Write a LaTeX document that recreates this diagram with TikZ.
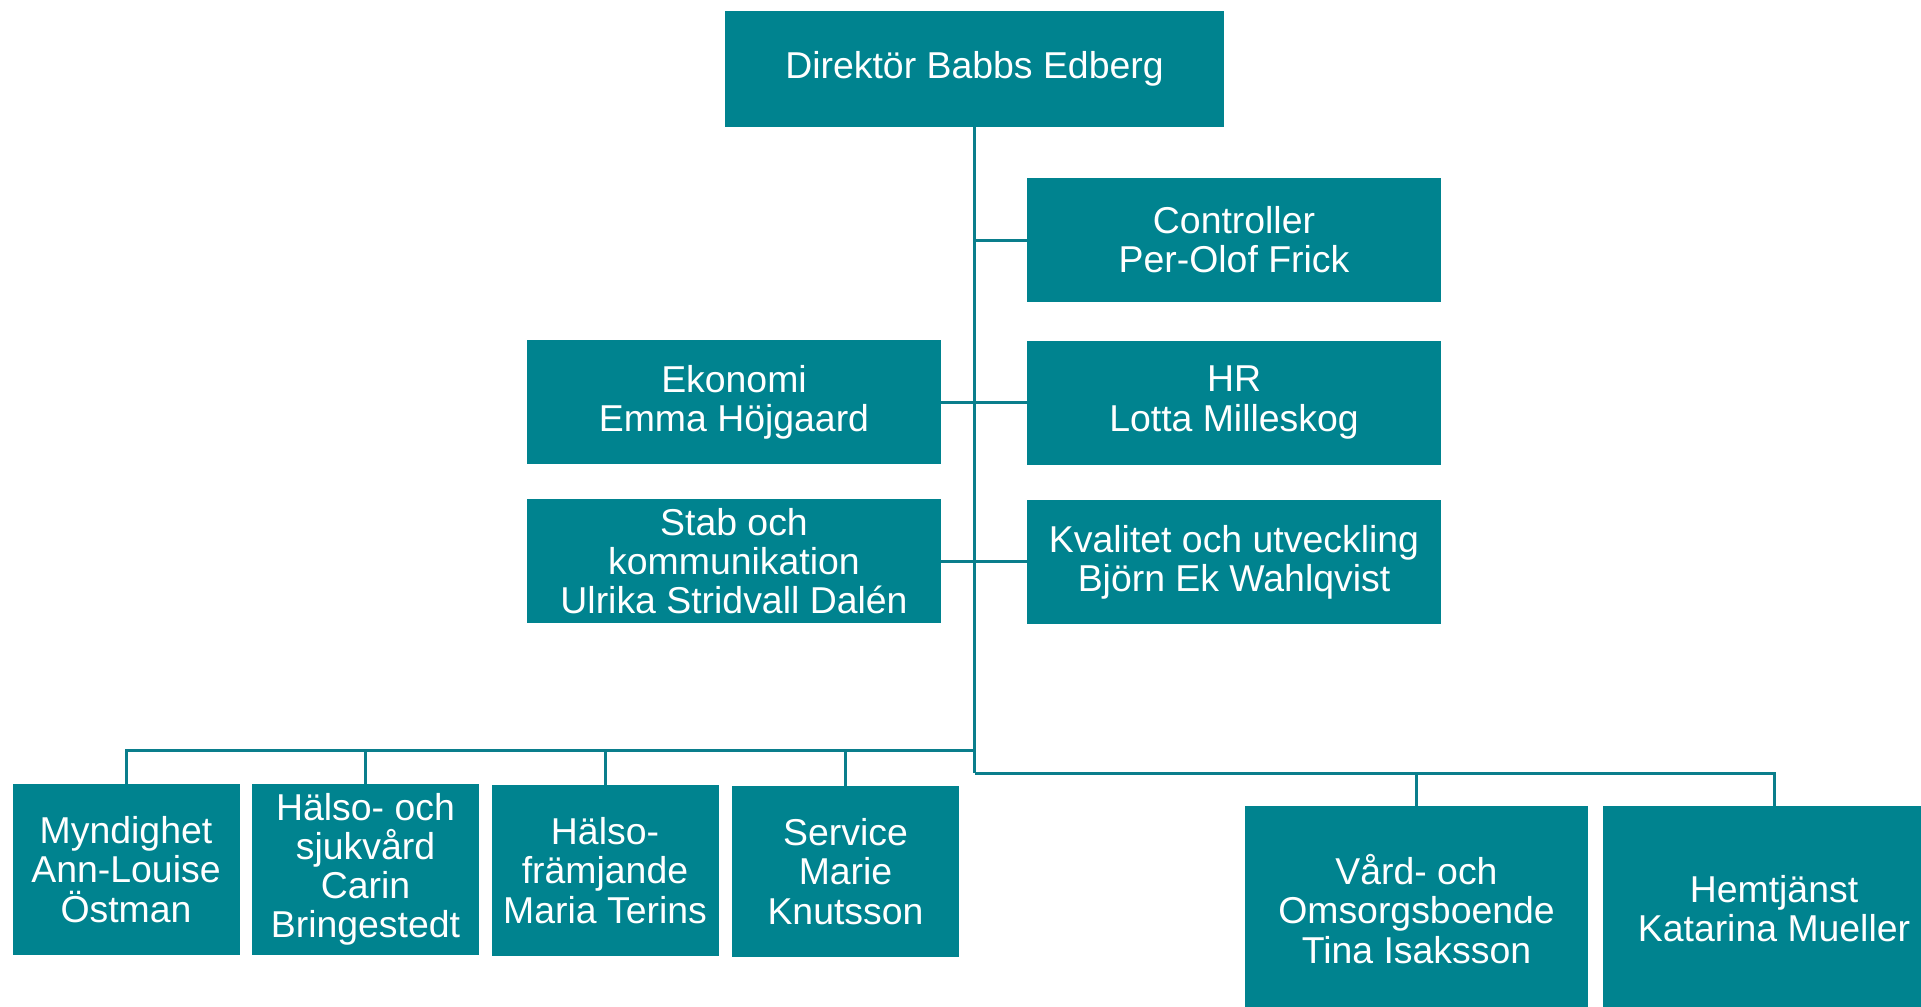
\documentclass[tikz,border=0pt]{standalone}
\usepackage{fontspec}
\setmainfont{Liberation Sans}
\definecolor{tealbox}{HTML}{00838F}
\definecolor{tealline}{HTML}{0A7E8C}
\begin{document}
\begin{tikzpicture}[x=0.5pt,y=-0.5pt,
  box/.style={fill=tealbox, text=white, inner sep=0pt, align=center,
    font=\fontsize{18.7}{19.6}\selectfont},
  wide/.style={minimum width=207pt, minimum height=62pt},
  low/.style={minimum width=113.5pt, minimum height=85.5pt},
  big/.style={minimum width=171.5pt, minimum height=103pt},
  conn/.style={draw=tealline, line width=1.5pt}]
\useasboundingbox (0,0) rectangle (1921,1006);
\clip (0,0) rectangle (1921,1006);

\node[box, minimum width=249.5pt, minimum height=58pt] (top) at (974.5,69) {Direktör Babbs Edberg};
\node[box, wide] (ctrl) at (1234,240) {Controller\\Per-Olof Frick};
\node[box, wide] (eko) at (734,402) {Ekonomi\\Emma Höjgaard};
\node[box, wide] (hr) at (1234,402.5) {HR\\Lotta Milleskog};
\node[box, wide] (stab) at (734,561) {Stab och\\kommunikation\\Ulrika Stridvall Dalén};
\node[box, wide] (kval) at (1234,562) {Kvalitet och utveckling\\Björn Ek Wahlqvist};

\node[box, low] (mynd) at (126,869.5) {Myndighet\\Ann-Louise\\Östman};
\node[box, low] (hs) at (365.5,869.5) {Hälso- och\\sjukvård\\Carin\\Bringestedt};
\node[box, low] (hf) at (605,870.5) {Hälso-\\främjande\\Maria Terins};
\node[box, low] (serv) at (845.5,871.5) {Service\\Marie\\Knutsson};
\node[box, big] (vard) at (1416.5,909) {Vård- och\\Omsorgsboende\\Tina Isaksson};
\node[box, big] (hem) at (1774,909) {Hemtjänst\\Katarina Mueller};

\coordinate (tb) at (974.5,773);
\coordinate (lb) at (974.5,750);

\draw[conn] (top.south) -- (tb);
\draw[conn] (ctrl.west -| top.south) -- (ctrl.west);
\draw[conn] (eko.east) -- (eko.east -| hr.west);
\draw[conn] (stab.east) -- (stab.east -| kval.west);

\draw[conn] (lb) -| (mynd.north);
\draw[conn] (lb) -| (hs.north);
\draw[conn] (lb) -| (hf.north);
\draw[conn] (lb) -| (serv.north);
\draw[conn] (tb) -| (vard.north);
\draw[conn] (tb) -| (hem.north);
\end{tikzpicture}
\end{document}
